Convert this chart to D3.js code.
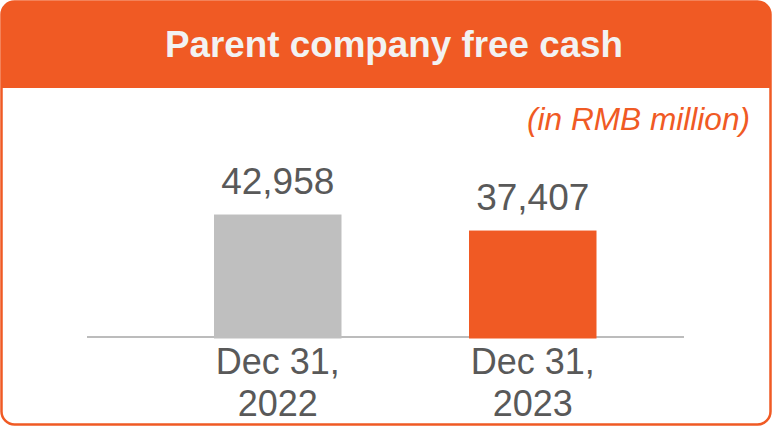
<!DOCTYPE html>
<html>
<head>
<style>
body { margin: 0; background: #fff; }
#chart { display: block; }
text { font-family: "Liberation Sans", Arial, sans-serif; }
</style>
</head>
<body>
<svg id="chart" width="772" height="426"></svg>
<script src="https://d3js.org/d3.v7.min.js"></script>
<script>
// data
const categories = ["Dec 31, 2022", "Dec 31, 2023"];
const labelLines = [["Dec 31,", "2022"], ["Dec 31,", "2023"]];
const values = [42958, 37407];
const barColors = ["#bfbfbf", "#f05a24"];

const orange = "#f05a24";
const textGray = "#595959";
const svg = d3.select("#chart");
const W = 772, H = 426;

// frame + header
svg.append("rect")
    .attr("x", 1.5).attr("y", 1.5)
    .attr("width", W - 3).attr("height", H - 3)
    .attr("rx", 13)
    .style("fill", "#fff")
    .style("stroke", orange)
    .style("stroke-width", 2.5);

svg.append("path")
    .attr("d", `M1.5,88 V14.5 A13,13 0 0 1 14.5,1.5 H${W-14.5} A13,13 0 0 1 ${W-1.5},14.5 V88 Z`)
    .style("fill", orange);

svg.append("text")
    .attr("x", 394).attr("y", 57)
    .attr("text-anchor", "middle")
    .style("font-size", "36.8px")
    .style("font-weight", "bold")
    .style("fill", "#f2f2f2")
    .text("Parent company free cash");

svg.append("text")
    .attr("x", 750).attr("y", 130)
    .attr("text-anchor", "end")
    .style("font-size", "31.6px")
    .style("font-style", "italic")
    .style("fill", orange)
    .text("(in RMB million)");

// scales
const x = d3.scaleBand()
    .domain(categories)
    .range([86.5, 724])
    .padding(0.5);

const y = d3.scaleLinear()
    .domain([0, 50000])
    .range([338.5, 338.5 - 144.3]);

// baseline
svg.append("line")
    .attr("x1", 87).attr("x2", 684)
    .attr("y1", 337).attr("y2", 337)
    .style("stroke", "#a6a6a6")
    .style("stroke-width", 1.5);

svg.selectAll("rect.bar")
    .data(values)
    .enter()
    .append("rect")
    .attr("class", "bar")
    .attr("x", (d, i) => x(categories[i]))
    .attr("width", x.bandwidth())
    .attr("y", d => y(d))
    .attr("height", d => y(0) - y(d))
    .style("fill", (d, i) => barColors[i]);

svg.selectAll("text.val")
    .data(values)
    .enter()
    .append("text")
    .attr("class", "val")
    .attr("x", (d, i) => x(categories[i]) + x.bandwidth() / 2)
    .attr("y", d => y(d) - 20.5)
    .attr("text-anchor", "middle")
    .style("font-size", "37px")
    .style("fill", textGray)
    .text(d => d3.format(",")(d));

const cats = svg.selectAll("text.cat")
    .data(labelLines)
    .enter()
    .append("text")
    .attr("class", "cat")
    .attr("text-anchor", "middle")
    .style("font-size", "36px")
    .style("fill", textGray);

cats.selectAll("tspan")
    .data((d, i) => d.map(s => ({ s: s, i: i })))
    .enter()
    .append("tspan")
    .attr("x", d => x(categories[d.i]) + x.bandwidth() / 2)
    .attr("y", (d, j) => 374 + j * 42)
    .text(d => d.s);
</script>
</body>
</html>
